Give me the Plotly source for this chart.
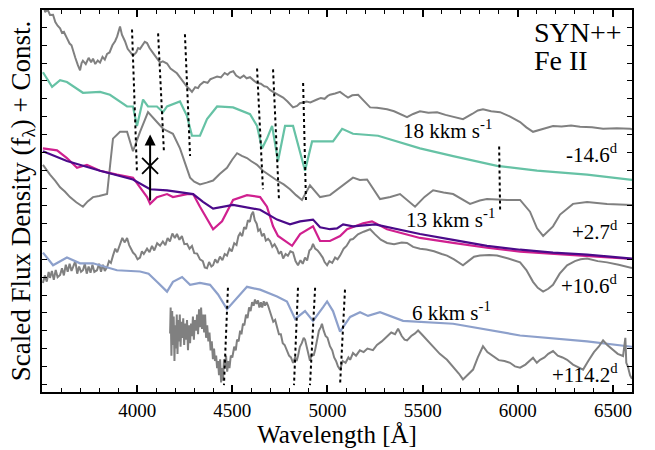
import plotly.graph_objects as go

# ---------------- data (wavelength in Angstrom, scaled flux + const.) ----------------
wl_m146 = [3500, 3516, 3530, 3542, 3558, 3570, 3582, 3595, 3605, 3615, 3631, 3645, 3655, 3663, 3675, 3688,
           3700, 3708, 3715, 3730, 3745, 3758, 3768, 3780, 3793, 3805, 3818, 3830, 3842, 3855, 3870, 3884,
           3895, 3910, 3920, 3936, 3950, 3965, 3978, 3995, 4005, 4015, 4030, 4040, 4052, 4065, 4083, 4100,
           4120, 4135, 4157, 4175, 4190, 4209, 4225, 4245, 4262, 4275, 4288, 4305, 4320, 4330, 4350, 4370,
           4385, 4399, 4420, 4440, 4460, 4475, 4488, 4505, 4520, 4541, 4560, 4575, 4593, 4610, 4630, 4650,
           4668, 4682, 4698, 4714, 4735, 4750, 4767, 4790, 4805, 4819, 4840, 4855, 4872, 4890, 4910, 4928,
           4945, 4965, 4985, 5000, 5013, 5040, 5066, 5090, 5108, 5130, 5161, 5190, 5224, 5260, 5290, 5313,
           5350, 5390, 5418, 5450, 5486, 5530, 5576, 5620, 5660, 5712, 5760, 5790, 5817, 5860, 5907, 5960,
           6012, 6045, 6080, 6130, 6185, 6230, 6280, 6327, 6390, 6448, 6520, 6590, 6600]
fx_m146 = [21.8, 20.87, 21.0, 20.7, 20.71, 20.3, 20.1, 19.95, 19.7, 19.75, 19.4, 19.1, 19.0, 18.69, 18.3, 17.9,
           17.6, 18.0, 18.14, 17.95, 18.3, 18.05, 18.25, 17.95, 18.15, 18.03, 18.35, 18.2, 18.52, 18.6, 19.0,
           19.23, 19.5, 20.05, 19.6, 19.23, 18.8, 18.6, 18.42, 18.6, 18.85, 18.8, 19.0, 19.2, 19.13, 18.85,
           18.58, 18.35, 18.03, 18.1, 17.98, 17.7, 17.6, 17.43, 17.2, 16.9, 16.67, 16.55, 16.39, 16.65, 16.6,
           16.78, 16.95, 16.9, 17.1, 17.16, 17.25, 17.2, 17.45, 17.35, 17.49, 17.55, 17.3, 17.16, 17.3, 17.15,
           17.21, 17.05, 16.89, 16.85, 16.7, 16.67, 16.5, 16.39, 16.25, 16.15, 16.07, 15.85, 15.65, 15.52,
           15.6, 15.75, 15.79, 15.85, 15.8, 15.9, 15.96, 16.05, 16.0, 16.15, 16.23, 16.3, 16.39, 16.2, 16.07,
           16.2, 16.23, 15.9, 15.52, 15.5, 15.45, 15.41, 15.3, 15.1, 14.97, 15.15, 15.3, 15.22, 15.25, 15.1,
           15.0, 14.86, 15.15, 15.35, 15.41, 15.3, 15.25, 15.0, 14.7, 14.4, 14.15, 14.3, 14.48, 14.45, 14.5,
           14.43, 14.4, 14.32, 14.35, 14.32, 14.3]

wl_syn18 = [3505, 3553, 3595, 3631, 3715, 3805, 3857, 3947, 3978, 3999, 4031, 4057, 4104, 4136, 4157, 4225,
            4262, 4288, 4330, 4367, 4420, 4504, 4593, 4630, 4656, 4682, 4709, 4740, 4777, 4819, 4882, 4919,
            4961, 5029, 5077, 5134, 5266, 5486, 5660, 5891, 6101, 6364, 6600]
fx_syn18 = [17.49, 16.67, 17.05, 16.94, 16.34, 16.39, 16.23, 15.57, 15.57, 14.48, 15.96, 15.57, 15.57, 15.25,
            15.57, 15.85, 15.03, 13.93, 13.93, 14.86, 15.57, 15.52, 15.14, 14.48, 13.22, 13.77, 14.48, 12.51,
            14.48, 14.48, 11.97, 13.61, 13.61, 13.61, 14.32, 14.04, 13.93, 13.22, 12.79, 12.24, 11.97, 11.75,
            11.45]

wl_p27 = [3505, 3525, 3542, 3570, 3595, 3620, 3647, 3680, 3715, 3740, 3768, 3800, 3842, 3860, 3873, 3910,
          3947, 3978, 4015, 4057, 4080, 4104, 4136, 4188, 4225, 4250, 4278, 4300, 4330, 4365, 4399, 4435,
          4472, 4500, 4525, 4550, 4577, 4600, 4630, 4661, 4698, 4735, 4770, 4803, 4835, 4866, 4908, 4935,
          4961, 5013, 5066, 5100, 5134, 5170, 5208, 5276, 5330, 5381, 5420, 5460, 5510, 5555, 5610, 5660,
          5749, 5800, 5838, 5890, 5944, 6012, 6064, 6101, 6133, 6185, 6222, 6290, 6364, 6469, 6600]
fx_p27 = [12.3, 12.0, 11.75, 11.4, 11.04, 10.8, 10.49, 10.2, 9.95, 10.25, 10.49, 10.55, 10.66, 12.5, 13.77,
          14.15, 14.15, 13.06, 14.15, 15.25, 15.0, 14.7, 14.32, 14.04, 13.22, 12.4, 11.58, 11.35, 11.2, 11.3,
          11.42, 11.8, 12.13, 12.6, 12.95, 12.8, 12.68, 12.5, 12.3, 11.97, 11.69, 11.42, 11.2, 10.93, 10.6,
          10.33, 11.15, 10.8, 10.49, 10.6, 11.04, 11.3, 11.58, 11.45, 11.48, 10.38, 10.5, 10.66, 10.3, 9.95,
          10.5, 10.87, 10.75, 10.66, 10.11, 10.3, 10.38, 10.35, 10.33, 10.33, 9.67, 8.74, 8.31, 8.85, 9.51,
          10.11, 10.22, 10.11, 10.05]

wl_syn13a = [3505, 3579, 3631, 3684, 3736, 3805, 3894, 3978, 4015, 4052, 4068, 4104, 4157, 4188, 4262, 4294,
             4330, 4367, 4399, 4446, 4504, 4577, 4646, 4682, 4714, 4740, 4814, 4856, 4924, 4961, 5013, 5066,
             5103, 5187, 5234, 5313, 5486, 5660, 5838, 6012, 6185, 6364, 6600]
fx_syn13a = [13.22, 13.11, 12.68, 12.13, 12.3, 11.97, 11.75, 11.58, 11.04, 10.49, 10.11, 10.49, 10.66, 10.49,
             10.66, 10.66, 9.95, 9.29, 8.69, 9.13, 10.33, 10.6, 10.49, 9.95, 8.85, 8.31, 7.76, 8.42, 8.85, 8.03,
             8.03, 8.31, 8.69, 9.02, 9.13, 8.69, 8.2, 7.92, 7.65, 7.43, 7.32, 7.21, 7.02]

wl_syn13b = [3505, 3631, 3805, 3978, 4068, 4157, 4294, 4346, 4399, 4504, 4646, 4735, 4803, 4856, 4924, 4961,
             5013, 5050, 5082, 5134, 5250, 5486, 5660, 5838, 6012, 6185, 6364, 6600]
fx_syn13b = [13.06, 12.51, 11.97, 11.48, 10.93, 10.87, 10.66, 10.22, 9.84, 10.05, 9.78, 9.23, 8.96, 9.13, 9.23,
             8.8, 8.69, 8.74, 8.96, 8.85, 8.96, 8.42, 8.09, 7.76, 7.54, 7.38, 7.27, 7.04]

wl_p106 = [3505, 3515, 3525, 3535, 3542, 3552, 3562, 3572, 3582, 3595, 3605, 3615, 3625, 3635, 3645, 3655,
           3663, 3675, 3685, 3695, 3705, 3715, 3725, 3735, 3745, 3755, 3765, 3775, 3789, 3800, 3810, 3820,
           3830, 3842, 3852, 3862, 3873, 3885, 3895, 3910, 3922, 3935, 3947, 3958, 3968, 3978, 3990, 4002,
           4015, 4025, 4035, 4052, 4065, 4078, 4090, 4105, 4120, 4135, 4148, 4160, 4172, 4185, 4198, 4209,
           4222, 4235, 4248, 4262, 4275, 4288, 4300, 4315, 4330, 4345, 4355, 4367, 4378, 4390, 4399, 4410,
           4422, 4435, 4448, 4460, 4472, 4485, 4497, 4510, 4522, 4532, 4541, 4552, 4562, 4572, 4582, 4592,
           4600, 4609, 4618, 4628, 4636, 4646, 4656, 4666, 4676, 4688, 4698, 4710, 4722, 4735, 4745, 4756,
           4767, 4780, 4792, 4805, 4819, 4832, 4845, 4858, 4870, 4882, 4893, 4905, 4915, 4924, 4935, 4948,
           4961, 4975, 4985, 4998, 5010, 5025, 5040, 5053, 5066, 5085, 5100, 5120, 5134, 5160, 5190, 5224,
           5250, 5280, 5313, 5350, 5390, 5418, 5450, 5486, 5520, 5560, 5600, 5628, 5665, 5690, 5712, 5740,
           5770, 5801, 5850, 5891, 5950, 6012, 6045, 6080, 6105, 6133, 6160, 6185, 6220, 6259, 6300, 6330,
           6364, 6420, 6469, 6530, 6570, 6600]
fx_p106 = [5.68, 6.1, 5.75, 6.3, 5.96, 6.35, 5.85, 6.4, 6.0, 6.12, 6.5, 6.1, 6.7, 6.3, 6.75, 6.35, 6.56, 6.9,
           6.2, 6.6, 6.3, 6.39, 6.75, 6.2, 6.6, 6.25, 6.7, 6.3, 6.39, 6.75, 6.3, 6.7, 6.35, 6.56, 6.9, 6.8,
           7.21, 7.6, 7.4, 7.92, 8.2, 7.95, 8.2, 7.8, 7.6, 7.38, 7.25, 7.0, 7.1, 7.45, 7.3, 7.6, 7.4, 7.75,
           7.5, 7.9, 7.76, 8.0, 7.8, 8.2, 8.0, 8.45, 8.2, 8.42, 8.1, 8.3, 7.85, 7.87, 7.6, 7.75, 7.35, 7.32,
           7.0, 6.9, 6.55, 6.5, 6.85, 6.6, 6.67, 7.0, 6.8, 7.15, 6.95, 7.3, 7.21, 7.6, 7.45, 7.9, 7.8, 8.3,
           8.47, 8.3, 8.8, 8.7, 9.2, 9.1, 9.5, 9.67, 9.2, 9.0, 8.6, 8.69, 8.3, 8.45, 8.05, 8.15, 8.03, 7.7,
           7.85, 7.6, 7.3, 7.45, 7.05, 7.3, 7.2, 7.45, 7.38, 6.9, 6.67, 6.95, 6.75, 7.1, 6.94, 7.5, 7.6, 7.87,
           7.6, 7.5, 7.32, 7.1, 6.85, 6.67, 6.9, 6.8, 7.1, 7.0, 7.21, 7.6, 7.75, 8.1, 8.14, 8.4, 8.55, 8.69,
           8.4, 8.1, 7.92, 7.85, 7.95, 7.92, 7.7, 7.6, 7.55, 7.45, 7.3, 7.21, 7.0, 6.8, 6.67, 6.9, 7.15, 7.21,
           7.25, 7.21, 7.05, 6.83, 6.4, 5.74, 5.4, 5.19, 5.35, 5.57, 6.2, 6.67, 6.9, 7.0, 7.05, 6.9, 6.83, 6.7,
           6.6, 6.52]

wl_syn6 = [3505, 3558, 3631, 3700, 3768, 3842, 3894, 4015, 4060, 4104, 4157, 4188, 4236, 4278, 4330, 4383,
           4425, 4472, 4525, 4577, 4646, 4735, 4787, 4830, 4882, 4924, 4977, 4998, 5029, 5066, 5119, 5171,
           5213, 5276, 5397, 5660, 6012, 6364, 6600]
fx_syn6 = [7.38, 6.67, 7.1, 6.78, 6.78, 6.56, 6.39, 6.32, 6.2, 5.74, 5.19, 5.74, 6.01, 5.57, 5.68, 5.57, 5.03,
           4.21, 4.86, 5.46, 5.3, 4.92, 4.64, 3.66, 4.1, 3.55, 4.32, 4.64, 4.1, 2.95, 3.77, 4.04, 3.83, 4.04,
           3.55, 3.39, 2.73, 2.4, 2.1]

wl_p1142 = [4173, 4176, 4180, 4184, 4188, 4192, 4196, 4200, 4204, 4208, 4212, 4216, 4220, 4224, 4228, 4233,
            4238, 4242, 4247, 4252, 4257, 4262, 4267, 4272, 4278, 4283, 4288, 4293, 4298, 4303, 4309, 4315,
            4320, 4325, 4330, 4336, 4341, 4346, 4352, 4357, 4362, 4368, 4374, 4380, 4386, 4392, 4398, 4404,
            4409, 4415, 4420, 4425, 4430, 4436, 4441, 4446, 4451, 4456, 4462, 4467, 4473, 4479, 4485, 4492,
            4500, 4510, 4518, 4525, 4533, 4541, 4548, 4556, 4563, 4572, 4580, 4588, 4596, 4604, 4612, 4619,
            4627, 4635, 4642, 4650, 4657, 4665, 4672, 4680, 4688, 4696, 4705, 4715, 4725, 4735, 4745, 4755,
            4765, 4775, 4787, 4798, 4808, 4819, 4830, 4838, 4845, 4855, 4865, 4875, 4882, 4890, 4900, 4908,
            4918, 4927, 4935, 4945, 4955, 4965, 4971, 4980, 4990, 5000, 5013, 5025, 5035, 5045, 5055, 5066,
            5080, 5095, 5110, 5119, 5134, 5150, 5170, 5190, 5210, 5239, 5260, 5285, 5313, 5335, 5355, 5371,
            5390, 5405, 5418, 5440, 5460, 5476, 5495, 5520, 5539, 5560, 5590, 5628, 5660, 5690, 5712, 5735,
            5765, 5790, 5817, 5840, 5870, 5900, 5930, 5959, 5985, 6012, 6040, 6060, 6080, 6100, 6117, 6140,
            6160, 6185, 6210, 6235, 6259, 6290, 6320, 6343, 6370, 6400, 6425, 6448, 6470, 6501, 6525, 6553,
            6565, 6570, 6578, 6590, 6600]
fx_p1142 = [2.84, 4.3, 1.6, 4.1, 2.2, 3.8, 1.3, 3.3, 2.0, 3.9, 1.7, 3.6, 2.4, 3.9, 2.1, 3.5, 2.6, 3.7, 2.2,
            3.4, 2.5, 3.6, 1.9, 3.3, 2.3, 3.4, 2.7, 3.8, 2.5, 3.6, 3.0, 3.9, 2.8, 4.2, 3.2, 4.3, 3.1, 3.9, 2.9,
            3.9, 2.6, 3.3, 2.4, 2.9, 1.9, 2.4, 1.4, 2.0, 1.3, 1.6, 0.9, 1.3, 0.5, 1.4, 0.1, 0.9, 0.2, 1.4, 1.0,
            1.6, 0.7, 1.3, 0.9, 1.6, 1.5, 2.1, 1.9, 2.5, 2.4, 3.0, 2.8, 3.4, 3.3, 3.9, 3.7, 4.3, 4.1, 4.6, 4.4,
            4.75, 4.5, 4.7, 4.3, 4.6, 4.3, 4.65, 4.4, 4.6, 4.4, 4.1, 3.9, 3.5, 3.6, 3.2, 2.8, 2.8, 2.3, 2.2,
            1.91, 1.6, 1.5, 1.2, 1.5, 1.3, 1.58, 2.1, 2.3, 2.6, 2.5, 2.1, 1.6, 1.31, 1.7, 1.6, 1.91, 2.5, 3.0,
            3.2, 3.39, 3.0, 2.7, 2.6, 2.13, 1.9, 1.5, 1.3, 1.0, 0.82, 1.3, 1.2, 1.5, 1.37, 1.75, 1.6, 1.9, 1.8,
            2.0, 1.91, 2.2, 2.4, 2.68, 2.9, 2.8, 3.11, 2.7, 2.5, 2.46, 2.7, 2.85, 3.01, 2.8, 2.5, 2.3, 2.0, 1.7,
            1.37, 1.0, 0.6, 0.27, 0.5, 0.82, 1.5, 2.13, 1.8, 1.58, 1.35, 1.3, 1.2, 1.0, 0.93, 1.1, 1.3, 1.48,
            1.2, 1.37, 1.5, 1.7, 1.86, 1.6, 1.5, 1.37, 1.1, 0.95, 0.82, 1.3, 1.8, 2.1, 2.46, 2.2, 1.91, 1.7,
            1.58, 2.6, 1.2, 1.0, 0.49, 0.3]

# Fe II line markers (start / end points of each dotted line)
feii_top_wl = [(3973, 3999), (4110, 4141), (4251, 4278), (4630, 4661), (4714, 4745), (4872, 4887), (5902, 5907)]
feii_top_fx = [(19.89, 11.86), (19.67, 12.95), (19.62, 12.79), (17.7, 10.93), (17.65, 10.38), (16.89, 10.22),
               (13.33, 9.78)]
feii_bot_wl = [(4477, 4456), (4845, 4824), (4935, 4908), (5092, 5066)]
feii_bot_fx = [(5.41, -0.05), (5.41, -0.05), (5.41, -0.05), (5.3, -0.05)]

arrow_wl = 4068
arrow_fx = (10.22, 14.0)
cross_wl = [4068]
cross_fx = [12.24]

x_ticks = [4000, 4500, 5000, 5500, 6000, 6500]

# ---------------- figure ----------------
GRAY = "#808080"
TEAL = "#66c2a5"
MAG = "#d0208f"
IND = "#4b0a8a"
BLUE = "#8da0cb"
FONT = "Liberation Serif"

fig = go.Figure()

def line(x, y, color, width=2.0):
    fig.add_trace(go.Scatter(x=x, y=y, mode="lines", line=dict(color=color, width=width),
                             showlegend=False, hoverinfo="skip"))

line(wl_m146, fx_m146, GRAY)
line(wl_syn18, fx_syn18, TEAL, 2.2)
line(wl_p27, fx_p27, GRAY)
line(wl_syn13a, fx_syn13a, MAG, 2.2)
line(wl_syn13b, fx_syn13b, IND, 2.2)
line(wl_p106, fx_p106, GRAY)
line(wl_syn6, fx_syn6, BLUE, 2.2)
line(wl_p1142, fx_p1142, GRAY)

for (w0, w1), (f0, f1) in list(zip(feii_top_wl, feii_top_fx)) + list(zip(feii_bot_wl, feii_bot_fx)):
    fig.add_trace(go.Scatter(x=[w0, w1], y=[f0, f1], mode="lines",
                             line=dict(color="black", width=2, dash="3px,3px"),
                             showlegend=False, hoverinfo="skip"))

fig.add_trace(go.Scatter(x=cross_wl, y=cross_fx, mode="markers",
                         marker=dict(symbol="x-thin", size=16, line=dict(color="black", width=1.8)),
                         showlegend=False, hoverinfo="skip"))

fig.add_annotation(x=arrow_wl, y=arrow_fx[1], ax=arrow_wl, ay=arrow_fx[0], xref="x", yref="y",
                   axref="x", ayref="y", showarrow=True, arrowhead=2, arrowsize=1.1, arrowwidth=2,
                   arrowcolor="black", text="")

def txt(x, y, s, xanchor="center", size=21):
    fig.add_annotation(x=x, y=y, text=s, showarrow=False, xanchor=xanchor, yanchor="middle",
                       font=dict(family=FONT, size=size, color="black"))

txt(6075, 19.73, "SYN++", "left", 28)
txt(6075, 18.14, "Fe II", "left", 28)
txt(5628, 14.26, "18 kkm s<sup>-1</sup>")
txt(6537, 12.95, "-14.6<sup>d</sup>", "right")
txt(5644, 9.29, "13 kkm s<sup>-1</sup>")
txt(6537, 8.6, "+2.7<sup>d</sup>", "right")
txt(5649, 4.1, "6 kkm s<sup>-1</sup>")
txt(6537, 5.57, "+10.6<sup>d</sup>", "right")
txt(6537, 0.6, "+114.2<sup>d</sup>", "right")

fig.update_layout(
    width=655, height=450,
    margin=dict(l=42, r=23, t=8, b=50),
    paper_bgcolor="white", plot_bgcolor="white",
    font=dict(family=FONT, color="black"),
    xaxis=dict(range=[3500, 6600], tickvals=x_ticks, ticks="inside", ticklen=7, tickwidth=1.5,
               tickcolor="black", showline=True, linewidth=2, linecolor="black", mirror="ticks",
               showgrid=False, zeroline=False, tickfont=dict(size=19, family=FONT),
               minor=dict(dtick=100, tick0=3500, ticks="inside", ticklen=4, tickwidth=1.2, tickcolor="black"),
               title=dict(text="Wavelength [Å]", font=dict(size=25, family=FONT), standoff=4)),
    yaxis=dict(range=[-0.437, 20.98], tick0=0, dtick=1, ticks="inside", ticklen=5, tickwidth=1.2,
               tickcolor="black", showticklabels=False, showline=True, linewidth=2, linecolor="black",
               mirror="ticks", showgrid=False, zeroline=False,
               title=dict(text="Scaled Flux Density (f<sub>λ</sub>) + Const.", font=dict(size=27, family=FONT),
                          standoff=2)),
)

fig.write_html("out.html")
